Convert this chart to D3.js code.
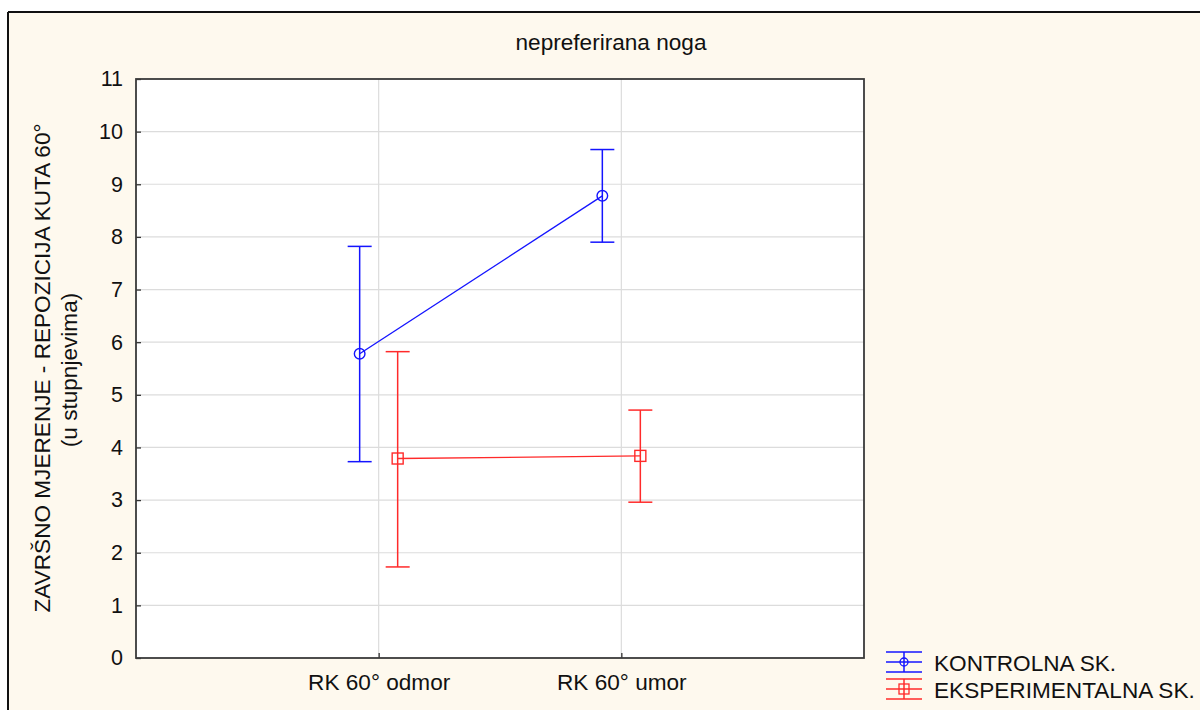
<!DOCTYPE html>
<html>
<head>
<meta charset="utf-8">
<script src="https://cdn.jsdelivr.net/npm/d3@7/dist/d3.min.js"></script>
<style>
  html, body { margin: 0; padding: 0; background: #fff; }
  svg { display: block; font-family: "Liberation Sans", Arial, sans-serif; }
</style>
</head>
<body>
<svg id="chart" width="1200" height="710"></svg>
<script>
// ---- data ----
const title = "nepreferirana noga";
const yLabelLine1 = "ZAVRŠNO MJERENJE - REPOZICIJA KUTA 60°";
const yLabelLine2 = "(u stupnjevima)";
const categories = ["RK 60° odmor", "RK 60° umor"];
const yTicks = [0, 1, 2, 3, 4, 5, 6, 7, 8, 9, 10, 11];
const seriesNames = ["KONTROLNA SK.", "EKSPERIMENTALNA SK."];
const kontrolnaMean  = [5.78, 8.78];
const kontrolnaLower = [3.73, 7.90];
const kontrolnaUpper = [7.82, 9.66];
const eksperMean  = [3.79, 3.84];
const eksperLower = [1.73, 2.96];
const eksperUpper = [5.82, 4.71];

// ---- layout ----
const svg = d3.select("#chart");
const W = 1200, H = 710;
const plot = { left: 136, top: 79, right: 864, bottom: 658 };
const bg = "#fef9ee";
const colors = ["#1414ff", "#ff2a2a"];
const fs = 22.6;

// outer panel
svg.append("rect").attr("x", 8).attr("y", 12).attr("width", W).attr("height", H)
  .attr("fill", bg);
svg.append("line").attr("x1", 8).attr("x2", W).attr("y1", 12).attr("y2", 12)
  .attr("stroke", "#111").attr("stroke-width", 2);
svg.append("line").attr("x1", 8).attr("x2", 8).attr("y1", 12).attr("y2", H)
  .attr("stroke", "#111").attr("stroke-width", 2);

// scales
const x = d3.scalePoint().domain(categories).range([plot.left, plot.right]).padding(1);
const y = d3.scaleLinear().domain([0, 11]).range([plot.bottom, plot.top]);
const dodge = [-19, 19];

// plot background
svg.append("rect").attr("x", plot.left).attr("y", plot.top)
  .attr("width", plot.right - plot.left).attr("height", plot.bottom - plot.top)
  .attr("fill", "#fff");

// grid
const grid = svg.append("g");
grid.selectAll("line.h").data(yTicks.filter(t => t > 0 && t < 11)).join("line")
  .attr("x1", plot.left).attr("x2", plot.right)
  .attr("y1", d => y(d)).attr("y2", d => y(d))
  .attr("stroke", "#dcdcdc").attr("stroke-width", 1.2);
grid.selectAll("line.v").data(categories).join("line")
  .attr("x1", d => x(d)).attr("x2", d => x(d))
  .attr("y1", plot.top).attr("y2", plot.bottom)
  .attr("stroke", "#dcdcdc").attr("stroke-width", 1.2);

// axes
const yAxis = d3.axisLeft(y).tickValues(yTicks).tickSize(-5).tickPadding(13)
  .tickFormat(d3.format("d"));
const gy = svg.append("g").attr("transform", `translate(${plot.left},0)`).call(yAxis);
gy.select(".domain").remove();
gy.selectAll(".tick line").attr("stroke", "#333").attr("stroke-width", 1.3);
gy.selectAll(".tick text").attr("font-size", 21.5).attr("fill", "#111")
  .attr("font-family", "Liberation Sans, Arial, sans-serif");

const xAxis = d3.axisBottom(x).tickSize(-5).tickPadding(16);
const gx = svg.append("g").attr("transform", `translate(0,${plot.bottom})`).call(xAxis);
gx.select(".domain").remove();
gx.selectAll(".tick line").attr("stroke", "#333").attr("stroke-width", 1.3);
gx.selectAll(".tick text").attr("font-size", fs).attr("fill", "#111")
  .attr("font-family", "Liberation Sans, Arial, sans-serif");

// plot frame
svg.append("rect").attr("x", plot.left).attr("y", plot.top)
  .attr("width", plot.right - plot.left).attr("height", plot.bottom - plot.top)
  .attr("fill", "none").attr("stroke", "#3a3a3a").attr("stroke-width", 1.8);

// series
const series = [
  { mean: kontrolnaMean, lo: kontrolnaLower, hi: kontrolnaUpper, marker: "circle" },
  { mean: eksperMean, lo: eksperLower, hi: eksperUpper, marker: "square" }
];
const capHalf = 12;
series.forEach((s, si) => {
  const g = svg.append("g");
  const col = colors[si];
  const px = i => x(categories[i]) + dodge[si];
  const idx = categories.map((_, i) => i);
  g.append("path")
    .datum(idx)
    .attr("d", d3.line().x(i => px(i)).y(i => y(s.mean[i])))
    .attr("fill", "none").attr("stroke", col).attr("stroke-width", 1.3);
  g.selectAll("line.err").data(idx).join("line")
    .attr("x1", i => px(i)).attr("x2", i => px(i))
    .attr("y1", i => y(s.lo[i])).attr("y2", i => y(s.hi[i]))
    .attr("stroke", col).attr("stroke-width", 1.5);
  g.selectAll("line.capHi").data(idx).join("line")
    .attr("x1", i => px(i) - capHalf).attr("x2", i => px(i) + capHalf)
    .attr("y1", i => y(s.hi[i])).attr("y2", i => y(s.hi[i]))
    .attr("stroke", col).attr("stroke-width", 1.5);
  g.selectAll("line.capLo").data(idx).join("line")
    .attr("x1", i => px(i) - capHalf).attr("x2", i => px(i) + capHalf)
    .attr("y1", i => y(s.lo[i])).attr("y2", i => y(s.lo[i]))
    .attr("stroke", col).attr("stroke-width", 1.5);
  if (s.marker === "circle") {
    g.selectAll("circle.m").data(idx).join("circle")
      .attr("cx", i => px(i)).attr("cy", i => y(s.mean[i])).attr("r", 5.3)
      .attr("fill", "none").attr("stroke", col).attr("stroke-width", 1.4);
  } else {
    g.selectAll("rect.m").data(idx).join("rect")
      .attr("x", i => px(i) - 5.5).attr("y", i => y(s.mean[i]) - 5.5)
      .attr("width", 11).attr("height", 11)
      .attr("fill", "none").attr("stroke", col).attr("stroke-width", 1.4);
  }
});

// title
svg.append("text").attr("x", 611).attr("y", 50).attr("text-anchor", "middle")
  .attr("font-size", fs).attr("fill", "#111").text(title);

// y label
svg.append("text").attr("transform", "translate(50,368) rotate(-90)")
  .attr("text-anchor", "middle").attr("font-size", fs).attr("fill", "#111")
  .text(yLabelLine1);
svg.append("text").attr("transform", "translate(77,370) rotate(-90)")
  .attr("text-anchor", "middle").attr("font-size", fs).attr("fill", "#111")
  .text(yLabelLine2);

// legend
const legX0 = 886, legX1 = 922, legTextX = 934;
const legTop = [652, 679];
seriesNames.forEach((name, si) => {
  const col = colors[si];
  const g = svg.append("g");
  const t = legTop[si];
  const mid = t + 10;
  [t, mid, t + 20].forEach(yy => {
    g.append("line").attr("x1", legX0).attr("x2", legX1).attr("y1", yy).attr("y2", yy)
      .attr("stroke", col).attr("stroke-width", 1.5);
  });
  const cx = (legX0 + legX1) / 2;
  g.append("line").attr("x1", cx).attr("x2", cx).attr("y1", t).attr("y2", t + 20)
    .attr("stroke", col).attr("stroke-width", 1.5);
  if (si === 0) {
    g.append("circle").attr("cx", cx).attr("cy", mid).attr("r", 4)
      .attr("fill", "none").attr("stroke", col).attr("stroke-width", 1.3);
  } else {
    g.append("rect").attr("x", cx - 5).attr("y", mid - 5).attr("width", 10).attr("height", 10)
      .attr("fill", "none").attr("stroke", col).attr("stroke-width", 1.3);
  }
  g.append("text").attr("x", legTextX).attr("y", mid + 8.5)
    .attr("font-size", fs).attr("fill", "#111").text(name);
});
</script>
</body>
</html>
